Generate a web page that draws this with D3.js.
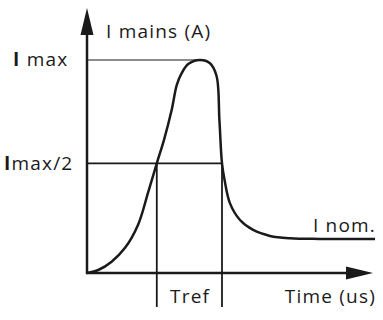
<!DOCTYPE html>
<html>
<head>
<meta charset="utf-8">
<script src="https://cdn.jsdelivr.net/npm/d3@7"></script>
<style>
  body { margin: 0; background: #fff; }
  text { font-family: "Open Sans", sans-serif; fill: #1a1a1a; font-size: 19px; letter-spacing: 1.2px; }
</style>
</head>
<body>
<div id="vis"></div>
<script>
const FRAME_WIDTH = 383;
const FRAME_HEIGHT = 320;

// inrush current curve, time in arbitrary units, current as fraction of Imax
const time = [0, 3.95, 8.6, 13.3, 17.9, 21.4, 24.4, 26.9, 29.6, 31.4, 33.1, 35.4, 39.5, 43.0, 45.3, 46.3, 47.2, 48.1, 50.0, 53.5, 58.1, 64.0, 71.0, 81.5, 100.7];
const current = [0, 0.014, 0.053, 0.118, 0.228, 0.38, 0.515, 0.624, 0.765, 0.883, 0.938, 0.981, 1.0, 0.985, 0.925, 0.718, 0.515, 0.437, 0.327, 0.249, 0.202, 0.174, 0.163, 0.160, 0.160];

const I_MAX = 1.0;
const I_HALF = 0.515;
const T_PEAK = 39.5;
const TREF = [24.4, 47.2];
const AXIS_END = {t: 100, i: 1.244};

const ink = "#1a1a1a";

const X_SCALE = d3.scaleLinear().domain([0, 100]).range([87, 373]);
const Y_SCALE = d3.scaleLinear().domain([0, 1]).range([273, 60]);

const FRAME = d3.select("#vis")
  .append("svg")
    .attr("width", FRAME_WIDTH)
    .attr("height", FRAME_HEIGHT);

// Imax guide (thin)
FRAME.append("line")
  .attr("x1", X_SCALE(0)).attr("x2", X_SCALE(T_PEAK))
  .attr("y1", Y_SCALE(I_MAX)).attr("y2", Y_SCALE(I_MAX))
  .attr("stroke", ink).attr("stroke-width", 1);

// Imax/2 guide
FRAME.append("line")
  .attr("x1", X_SCALE(0)).attr("x2", X_SCALE(TREF[1]))
  .attr("y1", Y_SCALE(I_HALF)).attr("y2", Y_SCALE(I_HALF))
  .attr("stroke", ink).attr("stroke-width", 1.8);

// Tref verticals
FRAME.selectAll(".tref")
  .data(TREF)
  .enter()
  .append("line")
    .attr("class", "tref")
    .attr("x1", d => X_SCALE(d)).attr("x2", d => X_SCALE(d))
    .attr("y1", Y_SCALE(I_HALF)).attr("y2", 307)
    .attr("stroke", ink).attr("stroke-width", 1.8);

// axes
FRAME.append("line")
  .attr("x1", X_SCALE(0)).attr("x2", X_SCALE(0))
  .attr("y1", Y_SCALE(0) + 1).attr("y2", Y_SCALE(AXIS_END.i) + 20)
  .attr("stroke", ink).attr("stroke-width", 2.5);

FRAME.append("line")
  .attr("x1", X_SCALE(0) - 1).attr("x2", X_SCALE(AXIS_END.t) - 20)
  .attr("y1", Y_SCALE(0)).attr("y2", Y_SCALE(0))
  .attr("stroke", ink).attr("stroke-width", 2.5);

// arrow heads
const yTip = [X_SCALE(0), Y_SCALE(AXIS_END.i)];
FRAME.append("path")
  .attr("d", `M${yTip[0]},${yTip[1]} L${yTip[0] - 6.5},${yTip[1] + 27} L${yTip[0] + 6.5},${yTip[1] + 27} Z`)
  .attr("fill", ink);

const xTip = [X_SCALE(AXIS_END.t), Y_SCALE(0)];
FRAME.append("path")
  .attr("d", `M${xTip[0]},${xTip[1]} L${xTip[0] - 27},${xTip[1] - 6.5} L${xTip[0] - 27},${xTip[1] + 6.5} Z`)
  .attr("fill", ink);

// curve
const points = time.map((t, k) => [t, current[k]]);
const line = d3.line()
  .x(d => X_SCALE(d[0]))
  .y(d => Y_SCALE(d[1]))
  .curve(d3.curveCatmullRom.alpha(0.5));

FRAME.append("path")
  .datum(points)
  .attr("d", line)
  .attr("fill", "none")
  .attr("stroke", ink)
  .attr("stroke-width", 2.5)
  .attr("stroke-linejoin", "round");

// labels
FRAME.append("text")
  .attr("x", 106).attr("y", 38)
  .text("I mains (A)");

const imaxLabel = FRAME.append("text")
  .attr("x", 13).attr("y", 66);
imaxLabel.append("tspan").style("font-weight", "bold").text("I");
imaxLabel.append("tspan").text(" max");

const ihalfLabel = FRAME.append("text")
  .attr("x", 4).attr("y", 170);
ihalfLabel.append("tspan").style("font-weight", "bold").text("I");
ihalfLabel.append("tspan").text("max/2");

FRAME.append("text")
  .attr("x", 170).attr("y", 303)
  .text("Tref");

FRAME.append("text")
  .attr("x", 376).attr("y", 303)
  .attr("text-anchor", "end")
  .text("Time (us)");

FRAME.append("text")
  .attr("x", 376).attr("y", 232)
  .attr("text-anchor", "end")
  .text("I nom.");
</script>
</body>
</html>
